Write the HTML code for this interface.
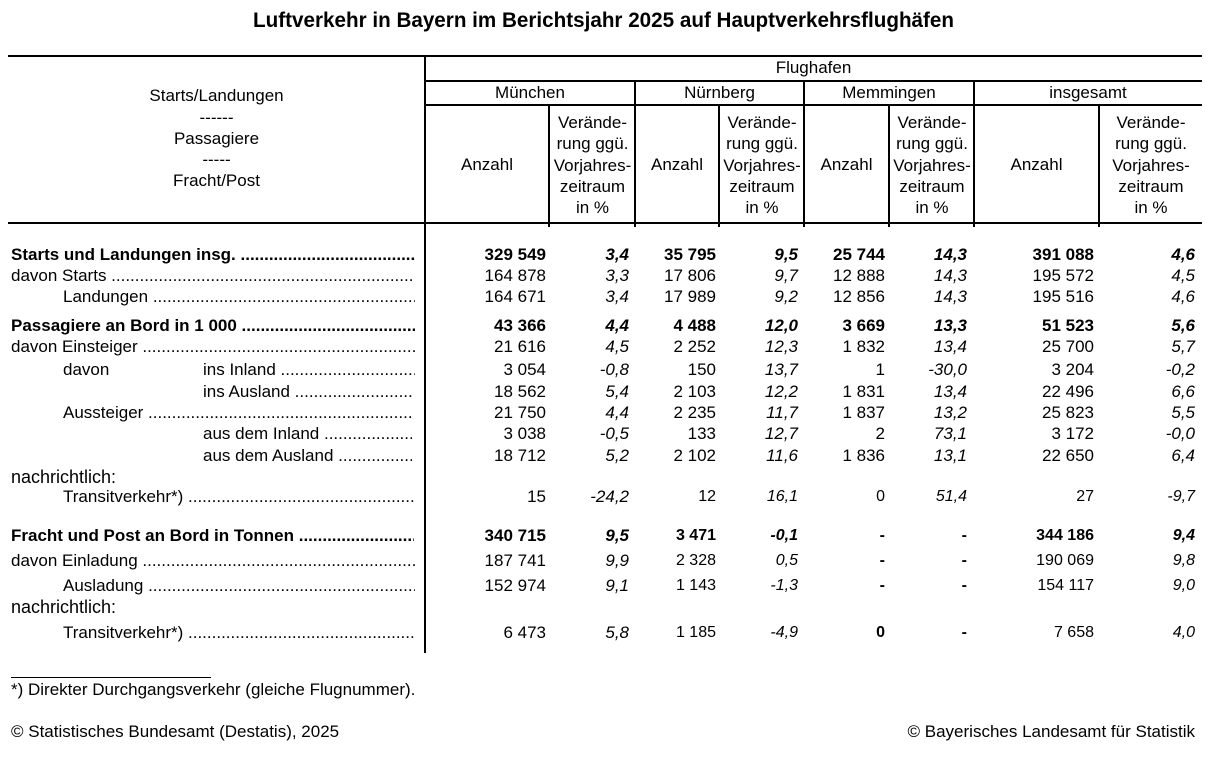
<!DOCTYPE html>
<html>
<head>
<meta charset="utf-8">
<style>
body{margin:0;width:1208px;height:766px;position:relative;background:#fff;font-family:"Liberation Sans",Arial,sans-serif;font-size:17px;color:#000;overflow:hidden}
.r{position:absolute;left:0;width:1208px;height:20px;line-height:20px}
.l{position:absolute;white-space:nowrap;overflow:hidden;top:0}
.n{position:absolute;white-space:nowrap;top:0}
.i{font-style:italic}
.b{font-weight:bold}
.c{font-size:16px}
.h{position:absolute;background:#000}
.t{position:absolute;text-align:center;white-space:nowrap;line-height:20px;height:20px}
.c1{right:662px}.c2{right:579px}.c3{right:492px}.c4{right:410px}.c5{right:323px}.c6{right:241px}.c7{right:114px}.c8{right:13px}
</style>
</head>
<body>
<div style="position:absolute;left:0;top:9px;width:1208px;text-align:center;font-weight:bold;font-size:21px;line-height:24px;"><span style="display:inline-block;transform:scaleX(0.983);">Luftverkehr in Bayern im Berichtsjahr 2025 auf Hauptverkehrsflughäfen</span></div>

<!-- lines -->
<div class="h" style="left:8px;top:55px;width:1194px;height:2px"></div>
<div class="h" style="left:425px;top:80px;width:777px;height:2px"></div>
<div class="h" style="left:425px;top:104px;width:777px;height:2px"></div>
<div class="h" style="left:8px;top:222px;width:1194px;height:2px"></div>
<div class="h" style="left:424px;top:55px;width:2px;height:598px"></div>
<div class="h" style="left:634px;top:80px;width:2px;height:147px"></div>
<div class="h" style="left:803px;top:80px;width:2px;height:147px"></div>
<div class="h" style="left:973px;top:80px;width:2px;height:147px"></div>
<div class="h" style="left:548px;top:104px;width:2px;height:123px"></div>
<div class="h" style="left:718px;top:104px;width:2px;height:123px"></div>
<div class="h" style="left:888px;top:104px;width:2px;height:123px"></div>
<div class="h" style="left:1098px;top:104px;width:2px;height:123px"></div>
<div class="h" style="left:11px;top:677px;width:200px;height:1px"></div>

<!-- left header -->
<div class="t" style="left:8px;width:417px;top:86px">Starts/Landungen</div>
<div class="t" style="left:8px;width:417px;top:108px">------</div>
<div class="t" style="left:8px;width:417px;top:129px">Passagiere</div>
<div class="t" style="left:8px;width:417px;top:150px">-----</div>
<div class="t" style="left:8px;width:417px;top:171px">Fracht/Post</div>

<div class="t" style="left:425px;width:777px;top:58px">Flughafen</div>
<div class="t" style="left:425px;width:210px;top:83px">München</div>
<div class="t" style="left:635px;width:169px;top:83px">Nürnberg</div>
<div class="t" style="left:804px;width:170px;top:83px">Memmingen</div>
<div class="t" style="left:974px;width:228px;top:83px">insgesamt</div>

<div class="t" style="left:425px;width:124px;top:155px">Anzahl</div>
<div class="t" style="left:635px;width:84px;top:155px">Anzahl</div>
<div class="t" style="left:804px;width:85px;top:155px">Anzahl</div>
<div class="t" style="left:974px;width:125px;top:155px">Anzahl</div>

<div class="t" style="left:550px;width:85px;top:112px;line-height:21.3px;height:110px">Verände-<br>rung ggü.<br>Vorjahres-<br>zeitraum<br>in %</div>
<div class="t" style="left:720px;width:84px;top:112px;line-height:21.3px;height:110px">Verände-<br>rung ggü.<br>Vorjahres-<br>zeitraum<br>in %</div>
<div class="t" style="left:890px;width:84px;top:112px;line-height:21.3px;height:110px">Verände-<br>rung ggü.<br>Vorjahres-<br>zeitraum<br>in %</div>
<div class="t" style="left:1100px;width:102px;top:112px;line-height:21.3px;height:110px">Verände-<br>rung ggü.<br>Vorjahres-<br>zeitraum<br>in %</div>

<!-- data rows -->
<div class="r" style="top:245px">
<div class="l b" style="left:11px;width:404px">Starts und Landungen insg. ....................................................................................................</div>
<span class="n b c1">329 549</span><span class="n b i c2">3,4</span><span class="n b c3">35 795</span><span class="n b i c4">9,5</span><span class="n b c5">25 744</span><span class="n b i c6">14,3</span><span class="n b c7">391 088</span><span class="n b i c8">4,6</span>
</div>
<div class="r" style="top:266px">
<div class="l" style="left:11px;width:404px">davon Starts ....................................................................................................</div>
<span class="n c1">164 878</span><span class="n i c2">3,3</span><span class="n c3">17 806</span><span class="n i c4">9,7</span><span class="n c5">12 888</span><span class="n i c6">14,3</span><span class="n c7">195 572</span><span class="n i c8">4,5</span>
</div>
<div class="r" style="top:287px">
<div class="l" style="left:63px;width:352px">Landungen ....................................................................................................</div>
<span class="n c1">164 671</span><span class="n i c2">3,4</span><span class="n c3">17 989</span><span class="n i c4">9,2</span><span class="n c5">12 856</span><span class="n i c6">14,3</span><span class="n c7">195 516</span><span class="n i c8">4,6</span>
</div>
<div class="r" style="top:316px">
<div class="l b" style="left:11px;width:404px">Passagiere an Bord in 1 000 ....................................................................................................</div>
<span class="n b c1">43 366</span><span class="n b i c2">4,4</span><span class="n b c3">4 488</span><span class="n b i c4">12,0</span><span class="n b c5">3 669</span><span class="n b i c6">13,3</span><span class="n b c7">51 523</span><span class="n b i c8">5,6</span>
</div>
<div class="r" style="top:337px">
<div class="l" style="left:11px;width:404px">davon Einsteiger ....................................................................................................</div>
<span class="n c1">21 616</span><span class="n i c2">4,5</span><span class="n c3">2 252</span><span class="n i c4">12,3</span><span class="n c5">1 832</span><span class="n i c6">13,4</span><span class="n c7">25 700</span><span class="n i c8">5,7</span>
</div>
<div class="r" style="top:360px">
<div class="l" style="left:63px;width:100px">davon</div>
<div class="l" style="left:203px;width:212px">ins Inland ....................................................................................................</div>
<span class="n c1">3 054</span><span class="n i c2">-0,8</span><span class="n c3">150</span><span class="n i c4">13,7</span><span class="n c5">1</span><span class="n i c6">-30,0</span><span class="n c7">3 204</span><span class="n i c8">-0,2</span>
</div>
<div class="r" style="top:382px">
<div class="l" style="left:203px;width:209px">ins Ausland ....................................................................................................</div>
<span class="n c1">18 562</span><span class="n i c2">5,4</span><span class="n c3">2 103</span><span class="n i c4">12,2</span><span class="n c5">1 831</span><span class="n i c6">13,4</span><span class="n c7">22 496</span><span class="n i c8">6,6</span>
</div>
<div class="r" style="top:403px">
<div class="l" style="left:63px;width:349px">Aussteiger ....................................................................................................</div>
<span class="n c1">21 750</span><span class="n i c2">4,4</span><span class="n c3">2 235</span><span class="n i c4">11,7</span><span class="n c5">1 837</span><span class="n i c6">13,2</span><span class="n c7">25 823</span><span class="n i c8">5,5</span>
</div>
<div class="r" style="top:424px">
<div class="l" style="left:203px;width:209px">aus dem Inland ....................................................................................................</div>
<span class="n c1">3 038</span><span class="n i c2">-0,5</span><span class="n c3">133</span><span class="n i c4">12,7</span><span class="n c5">2</span><span class="n i c6">73,1</span><span class="n c7">3 172</span><span class="n i c8">-0,0</span>
</div>
<div class="r" style="top:446px">
<div class="l" style="left:203px;width:209px">aus dem Ausland ....................................................................................................</div>
<span class="n c1">18 712</span><span class="n i c2">5,2</span><span class="n c3">2 102</span><span class="n i c4">11,6</span><span class="n c5">1 836</span><span class="n i c6">13,1</span><span class="n c7">22 650</span><span class="n i c8">6,4</span>
</div>
<div class="r" style="top:467px;font-size:18px">
<div class="l" style="left:11px;width:300px">nachrichtlich:</div>
</div>
<div class="r" style="top:487px">
<div class="l" style="left:63px;width:352px">Transitverkehr*) ....................................................................................................</div>
<span class="n c1">15</span><span class="n i c2">-24,2</span><span class="n c c3">12</span><span class="n i c c4">16,1</span><span class="n c c5">0</span><span class="n i c c6">51,4</span><span class="n c c7">27</span><span class="n i c c8">-9,7</span>
</div>
<div class="r" style="top:526px">
<div class="l b" style="left:11px;width:403px">Fracht und Post an Bord in Tonnen ....................................................................................................</div>
<span class="n b c1">340 715</span><span class="n b i c2">9,5</span><span class="n b c c3">3 471</span><span class="n b i c c4">-0,1</span><span class="n b c c5">-</span><span class="n b c c6">-</span><span class="n b c c7">344 186</span><span class="n b i c c8">9,4</span>
</div>
<div class="r" style="top:551px">
<div class="l" style="left:11px;width:404px">davon Einladung ....................................................................................................</div>
<span class="n c1">187 741</span><span class="n i c2">9,9</span><span class="n c c3">2 328</span><span class="n i c c4">0,5</span><span class="n b c c5">-</span><span class="n b c c6">-</span><span class="n c c7">190 069</span><span class="n i c c8">9,8</span>
</div>
<div class="r" style="top:576px">
<div class="l" style="left:63px;width:352px">Ausladung ....................................................................................................</div>
<span class="n c1">152 974</span><span class="n i c2">9,1</span><span class="n c c3">1 143</span><span class="n i c c4">-1,3</span><span class="n b c c5">-</span><span class="n b c c6">-</span><span class="n c c7">154 117</span><span class="n i c c8">9,0</span>
</div>
<div class="r" style="top:597px;font-size:18px">
<div class="l" style="left:11px;width:300px">nachrichtlich:</div>
</div>
<div class="r" style="top:623px">
<div class="l" style="left:63px;width:352px">Transitverkehr*) ....................................................................................................</div>
<span class="n c1">6 473</span><span class="n i c2">5,8</span><span class="n c c3">1 185</span><span class="n i c c4">-4,9</span><span class="n b c c5">0</span><span class="n b c c6">-</span><span class="n c c7">7 658</span><span class="n i c c8">4,0</span>
</div>

<!-- footer -->
<div class="r" style="top:680px">
<div class="l" style="left:11px;width:600px">*) Direkter Durchgangsverkehr (gleiche Flugnummer).</div>
</div>
<div class="r" style="top:722px">
<div class="l" style="left:11px;width:600px">© Statistisches Bundesamt (Destatis), 2025</div>
<span class="n" style="right:13px">© Bayerisches Landesamt für Statistik</span>
</div>
</body>
</html>
